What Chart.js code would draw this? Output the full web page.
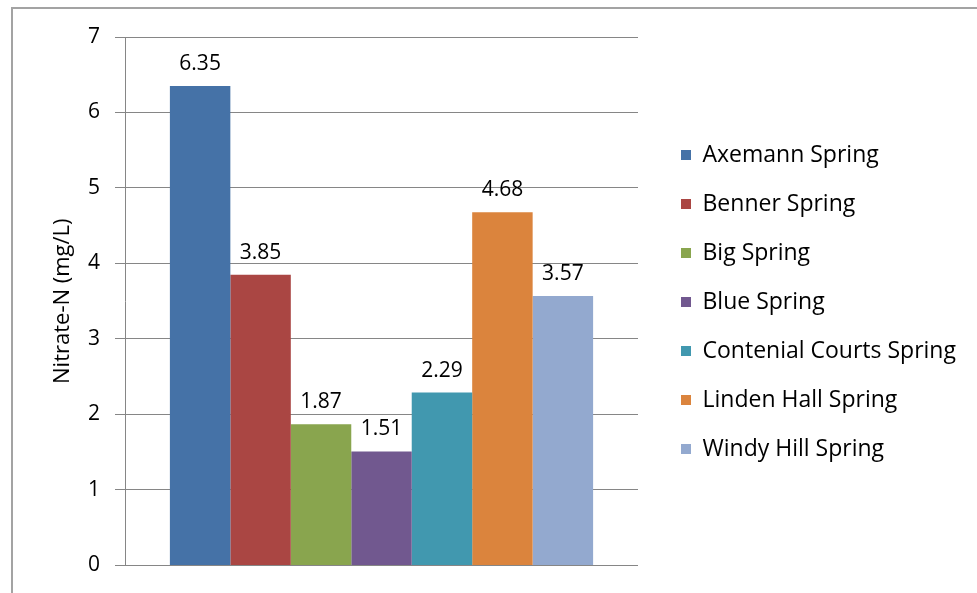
<!DOCTYPE html>
<html><head><meta charset="utf-8">
<script src="https://cdn.jsdelivr.net/npm/chart.js@4/dist/chart.umd.min.js"></script>
<style>
html,body{margin:0;padding:0;background:#fff;overflow:hidden}
#wrap{position:relative;width:977px;height:593px}
#frame{position:absolute;left:11px;top:7px;right:-10px;bottom:-10px;border-left:2px solid #a3a3a3;border-top:2px solid #a3a3a3;pointer-events:none}
</style></head><body>
<div id="wrap"><canvas id="c" width="977" height="593"></canvas><div id="frame"></div></div>
<script>
// ---- data ----
const categories = [''];
const springs = ['Axemann Spring','Benner Spring','Big Spring','Blue Spring','Contenial Courts Spring','Linden Hall Spring','Windy Hill Spring'];
const nitrate = [6.35, 3.85, 1.87, 1.51, 2.29, 4.68, 3.57];
const colors = ['#4572A7','#AA4643','#89A54E','#71588F','#4198AF','#DB843D','#93A9CF'];
const yMin = 0, yMax = 7, yStep = 1;
const yTitle = 'Nitrate-N (mg/L)';

const FONT = "'Open Sans', 'Noto Sans', sans-serif";
Chart.defaults.color = '#000';
Chart.defaults.font.family = FONT;

const canvas = document.getElementById('c');
const mctx = canvas.getContext('2d');
const legendSize = 23, legendPad = 26, boxW = 10;
mctx.font = legendSize + "px " + FONT;
const maxText = Math.max(...springs.map(s => mctx.measureText(s).width));
const legendLeft = 657;
const legendWidth = legendPad + boxW + legendSize / 2 + maxText;
const padRight = Math.max(0, 977 - legendLeft - legendWidth);

const valueLabels = {
  id: 'valueLabels',
  afterDatasetsDraw(chart) {
    const ctx = chart.ctx;
    ctx.save();
    ctx.font = "21px " + FONT;
    ctx.fillStyle = '#000';
    ctx.textAlign = 'center';
    ctx.textBaseline = 'middle';
    chart.data.datasets.forEach((ds, i) => {
      const meta = chart.getDatasetMeta(i);
      meta.data.forEach((bar, j) => {
        ctx.fillText(ds.data[j].toFixed(2), bar.x, bar.y - 22);
      });
    });
    ctx.restore();
  }
};

new Chart(canvas, {
  type: 'bar',
  data: {
    labels: categories,
    datasets: springs.map((s, i) => ({
      label: s,
      data: [nitrate[i]],
      backgroundColor: colors[i],
      borderWidth: 0,
      categoryPercentage: 0.825,
      barPercentage: 1
    }))
  },
  options: {
    responsive: false,
    animation: false,
    devicePixelRatio: 1,
    layout: { padding: { top: 37, bottom: 26, left: 0, right: padRight } },
    plugins: {
      tooltip: { enabled: false },
      legend: {
        position: 'right',
        align: 'center',
        maxWidth: legendWidth + 2,
        labels: {
          boxWidth: boxW, boxHeight: 10, padding: legendPad,
          font: { size: legendSize, family: FONT }, color: '#000'
        }
      }
    },
    scales: {
      x: { display: false },
      y: {
        min: yMin, max: yMax,
        ticks: { stepSize: yStep, padding: 15, font: { size: 21 }, color: '#000' },
        grid: { color: '#868686', lineWidth: 1, tickLength: 10, drawTicks: true },
        border: { display: true, color: '#868686', width: 1 },
        title: { display: true, text: yTitle, font: { size: 22 }, color: '#000', padding: { top: 50, bottom: 0 } },
        afterFit(s) { s.width = 125; }
      },
      y2: {
        position: 'right',
        display: true,
        ticks: { display: false },
        grid: { display: false, drawTicks: false },
        border: { display: false },
        afterFit(s) { s.width = legendLeft - 640; }
      }
    }
  },
  plugins: [valueLabels]
});
</script>
</body></html>
